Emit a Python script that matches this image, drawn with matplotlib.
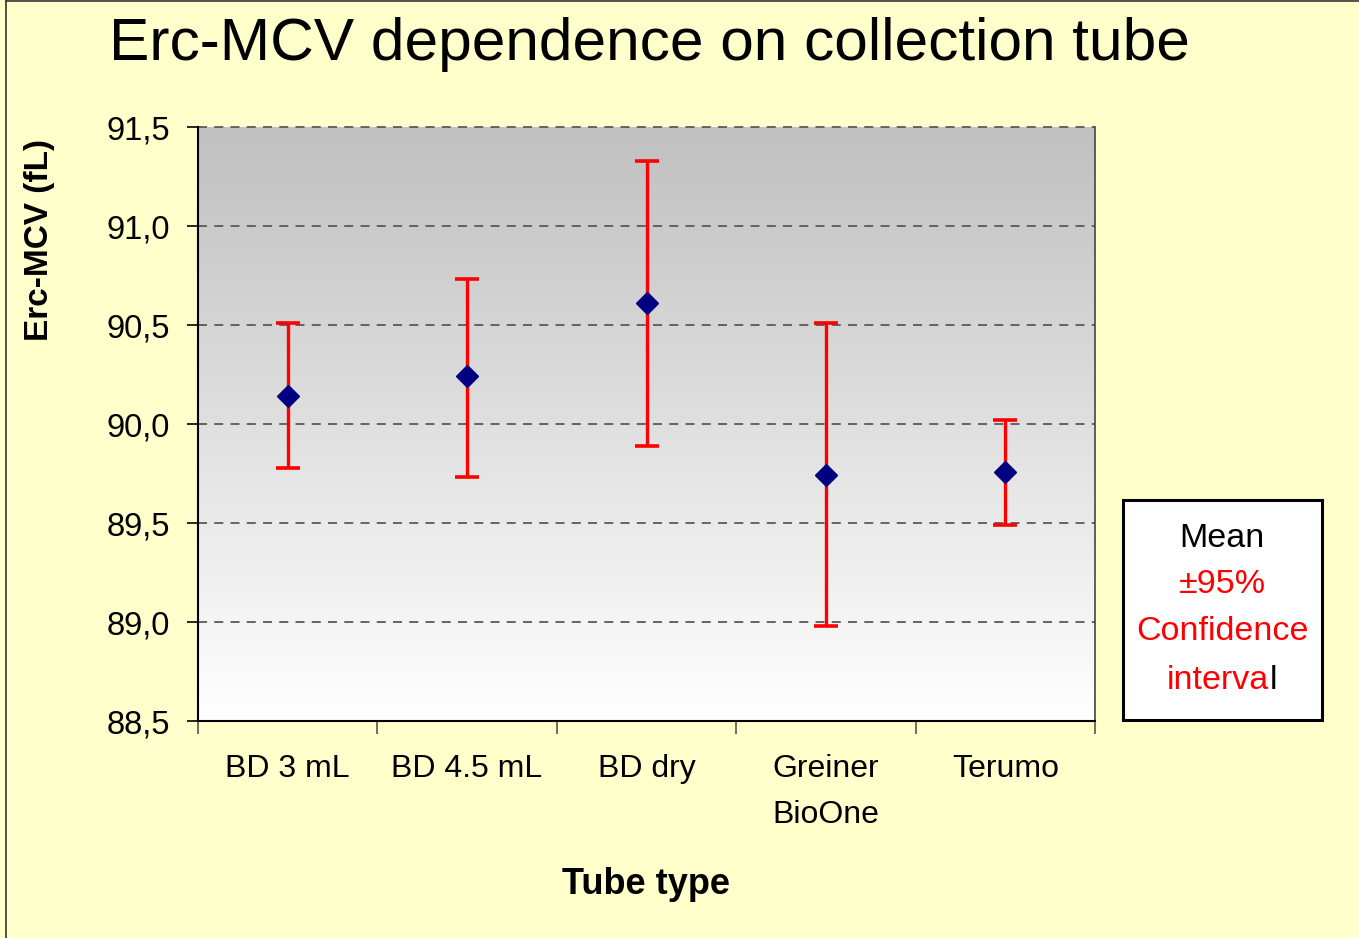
import numpy as np
import matplotlib
matplotlib.use("Agg")
import matplotlib.pyplot as plt
from matplotlib.lines import Line2D
from matplotlib.patches import Rectangle

plt.rcParams['font.family'] = ['Liberation Sans', 'DejaVu Sans']

# data
tubes = ["BD 3 mL", "BD 4.5 mL", "BD dry", "Greiner\nBioOne", "Terumo"]
mean_mcv = [90.14, 90.24, 90.61, 89.74, 89.76]
ci_upper = [90.51, 90.73, 91.33, 90.51, 90.02]
ci_lower = [89.78, 89.73, 89.89, 88.98, 89.49]
y_ticks = [88.5, 89.0, 89.5, 90.0, 90.5, 91.0, 91.5]
y_ticklabels = ["88,5", "89,0", "89,5", "90,0", "90,5", "91,0", "91,5"]

BG = "#FFFFCC"
W, H = 1359, 938

fig = plt.figure(figsize=(W / 100, H / 100), dpi=100, facecolor=BG)
ax = fig.add_axes([198 / W, 1 - 721 / H, (1095 - 198) / W, (721 - 127) / H])

x = np.arange(len(tubes))
mean_arr = np.array(mean_mcv)
yerr = [mean_arr - np.array(ci_lower), np.array(ci_upper) - mean_arr]

# grey (top) -> white (bottom) gradient in plot area
grad = np.linspace(0.753, 1.0, 256).reshape(-1, 1)
ax.imshow(np.dstack([grad, grad, grad]), extent=[-0.5, len(tubes) - 0.5, y_ticks[0], y_ticks[-1]],
          origin="upper", aspect="auto", zorder=0, interpolation="bilinear")
ax.set_xlim(-0.5, len(tubes) - 0.5)
ax.set_ylim(y_ticks[0], y_ticks[-1])

for yv in y_ticks[1:]:
    ax.axhline(yv, color="#5a5a5a", lw=1.3, ls=(0, (5, 4)), zorder=1, clip_on=False)

ax.errorbar(x, mean_mcv, yerr=yerr, fmt="none", ecolor="#FF0000", elinewidth=2.4,
            capsize=8.6, capthick=2.6, zorder=3)
ax.plot(x, mean_mcv, ls="none", marker="D", ms=11, color="#000080", zorder=4)

ax.set_yticks(y_ticks)
ax.set_yticklabels(y_ticklabels, fontsize=23.5)
ax.tick_params(axis="y", direction="out", length=8, width=1.2, pad=12, colors="black")

ax.set_xticks(x)
ax.set_xticklabels(tubes, fontsize=23, linespacing=1.66)
ax.set_xticks(np.arange(-0.5, len(tubes)), minor=True)
ax.tick_params(axis="x", which="major", length=0, pad=24)
ax.tick_params(axis="x", which="minor", direction="out", length=9, width=1.2, color="#555555")

ax.spines["top"].set_visible(False)
ax.spines["right"].set_color("#444444")
ax.spines["right"].set_linewidth(1.2)
ax.spines["left"].set_linewidth(1.5)
ax.spines["bottom"].set_linewidth(1.5)

fig.text(649 / W, 1 - 45 / H, "Erc-MCV dependence on collection tube", fontsize=43.5,
         ha="center", va="center")
fig.text(40 / W, 1 - 240 / H, "Erc-MCV (fL)", fontsize=24, fontweight="bold",
         rotation=90, ha="center", va="center")
fig.text(646 / W, 1 - 884 / H, "Tube type", fontsize=26, fontweight="bold",
         ha="center", va="center")

# legend box
fig.patches.append(Rectangle((1123 / W, 1 - 720 / H), (1322 - 1123) / W, (720 - 500) / H,
                             transform=fig.transFigure, facecolor="white", edgecolor="black",
                             lw=2.2, zorder=5))
cx = 1222 / W
LFS = 24.5
fig.text(cx, 1 - 538 / H, "Mean", fontsize=LFS, color="black", ha="center", va="center", zorder=6)
fig.text(cx, 1 - 584 / H, "\u00b195%", fontsize=LFS, color="#FF0000", ha="center", va="center", zorder=6)
fig.text(cx, 1 - 631 / H, "Confidence", fontsize=LFS, color="#FF0000", ha="center", va="center", zorder=6)

# "interva" red + "l" black, centred together
renderer = fig.canvas.get_renderer()
t_a = fig.text(0, 0, "interva", fontsize=LFS, color="#FF0000", ha="left", va="baseline", zorder=6)
t_b = fig.text(0, 0, "l", fontsize=LFS, color="black", ha="left", va="baseline", zorder=6)
t_full = fig.text(0, 0, "interval", fontsize=LFS, ha="left", va="baseline")
w_full = t_full.get_window_extent(renderer).width / W
w_a = t_a.get_window_extent(renderer).width / W
t_full.remove()
x0 = cx - w_full / 2
base_y = 1 - 689 / H
t_a.set_position((x0, base_y))
t_b.set_position((x0 + w_a, base_y))

# outer frame (left and top edges)
fig.lines.append(Line2D([5.5 / W, 5.5 / W], [0, 1 - 1 / H], transform=fig.transFigure,
                        color="#333333", lw=1.2))
fig.lines.append(Line2D([5.5 / W, 1], [1 - 1 / H, 1 - 1 / H], transform=fig.transFigure,
                        color="#333333", lw=1.2))

fig.savefig("out.png", dpi=100, facecolor=BG)
